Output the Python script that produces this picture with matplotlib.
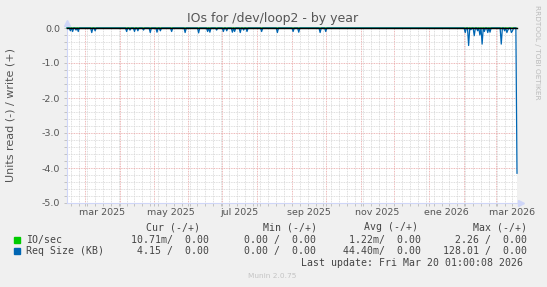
import numpy as np
import matplotlib
matplotlib.use('Agg')
import matplotlib.pyplot as plt
import matplotlib.dates as mdates
import matplotlib.transforms as mtransforms
from matplotlib.patches import Rectangle
from matplotlib.ticker import MultipleLocator
from datetime import datetime, timedelta

W, H = 547, 287

# data (read side drawn negative, one point per day)
start = datetime(2025, 2, 13, 1, 0)
n_days = 401
req_dip_days = [3, 5, 8, 10, 22, 25, 53, 56, 60, 63, 68, 74, 80, 83, 93, 105,
                117, 125, 127, 133, 139, 142, 147, 149, 154, 157, 160, 173,
                187, 201, 206, 225, 230,
                354, 357, 359, 362, 365, 367, 369, 371, 374, 376, 386, 389,
                391, 392, 395, 396, 400]
req_dip_vals = [-0.08, -0.1, -0.06, -0.1, -0.13, -0.08, -0.1, -0.06, -0.1,
                -0.08, -0.06, -0.13, -0.12, -0.08, -0.1, -0.13, -0.14, -0.1,
                -0.12, -0.06, -0.1, -0.08, -0.12, -0.1, -0.13, -0.06, -0.1,
                -0.1, -0.13, -0.1, -0.12, -0.13, -0.1,
                -0.13, -0.5, -0.05, -0.22, -0.08, -0.2, -0.46, -0.1, -0.13,
                -0.12, -0.46, -0.08, -0.13, -0.05, -0.13, -0.08, -4.15]
io_dip_days = [400]
io_dip_vals = [-0.01]

label_months = [datetime(2025, 3, 1), datetime(2025, 5, 1), datetime(2025, 7, 1),
                datetime(2025, 9, 1), datetime(2025, 11, 1), datetime(2026, 1, 1),
                datetime(2026, 3, 1)]
label_texts = ['mar 2025', 'may 2025', 'jul 2025', 'sep 2025', 'nov 2025',
               'ene 2026', 'mar 2026']

names = ['IO/sec', 'Req Size (KB)']
colors = ['#00CC00', '#0066B3']
cur = ['10.71m/  0.00', '4.15 /  0.00']
mins = ['0.00 /  0.00', '0.00 /  0.00']
avgs = ['1.22m/  0.00', '44.40m/  0.00']
maxs = ['2.26 /  0.00', '128.01 /  0.00']

dates = [start + timedelta(days=i) for i in range(n_days)]
req = np.zeros(n_days)
req[req_dip_days] = req_dip_vals
io = np.zeros(n_days)
io[io_dip_days] = io_dip_vals

txt = '#555555'
fig = plt.figure(figsize=(W / 100, H / 100), dpi=100, facecolor='#F0F0F0')
ax = fig.add_axes([67 / W, (H - 203) / H, 450 / W, 175 / H])
ax.set_facecolor('white')

ax.plot(dates, io, color=colors[0], lw=0.9, clip_on=False, zorder=3)
ax.plot(dates, req, color=colors[1], lw=0.9, clip_on=False, zorder=4)
ax.axhline(0, color='black', lw=1.0, clip_on=False, zorder=5)

ax.set_xlim(start, start + timedelta(days=400))
ax.set_ylim(-5, 0)

ax.xaxis.set_major_locator(mdates.MonthLocator())
ax.xaxis.set_minor_locator(mdates.WeekdayLocator(byweekday=mdates.MO))
ax.xaxis.set_major_formatter(plt.NullFormatter())
ax.yaxis.set_major_locator(MultipleLocator(1))
ax.yaxis.set_minor_locator(MultipleLocator(0.2))
ax.yaxis.set_major_formatter(plt.FuncFormatter(lambda v, p: '%.1f' % v))

ax.grid(which='minor', color='#D4D4D4', linestyle=(0, (1, 1)), lw=0.6, zorder=1)
ax.grid(which='major', color='#E8A0A0', linestyle=(0, (1, 1)), lw=0.6, zorder=2)
ax.set_axisbelow(True)

ax.tick_params(axis='both', which='both', colors='#BBBBBB', length=2, width=0.6,
               labelcolor=txt, labelsize=6.8)
ax.tick_params(axis='y', which='major', pad=3)
for s in ['top', 'right']:
    ax.spines[s].set_visible(False)
for s in ['left', 'bottom']:
    ax.spines[s].set_color('#CFD6F8')
    ax.spines[s].set_linewidth(0.8)

# axis arrows
ax.plot([0], [1.03], marker='^', ms=4, color='#CFD6F8', transform=ax.transAxes,
        clip_on=False)
ax.plot([1.008], [0], marker='>', ms=4, color='#CFD6F8', transform=ax.transAxes,
        clip_on=False)

# month labels centred on mid-month
trans = mtransforms.blended_transform_factory(ax.transData, ax.transAxes)
for m, t in zip(label_months, label_texts):
    ax.text(m + timedelta(days=15), -0.054, t, transform=trans, ha='center',
            va='center', fontsize=6.8, color=txt, clip_on=False)

fig.text(273 / W, (H - 18.5) / H, 'IOs for /dev/loop2 - by year', ha='center',
         va='center', fontsize=9, color=txt)
fig.text(11 / W, (H - 114.5) / H, 'Units read (-) / write (+)', rotation=90,
         ha='center', va='center', fontsize=8, color=txt)
fig.text(537.5 / W, (H - 52.5) / H, 'RRDTOOL / TOBI OETIKER', rotation=270,
         ha='center', va='center', fontsize=5.3, color='#BBBBBB')
fig.text(272 / W, (H - 276) / H, 'Munin 2.0.75', ha='center', va='center',
         fontsize=5.3, color='#C4C4C4')

# legend
mono = dict(family='DejaVu Sans Mono', fontsize=7.1, color='#444444', va='center')
hy = 227.5
for x, h in zip([200, 316.7, 418.3, 526.7],
                ['Cur (-/+)', 'Min (-/+)', 'Avg (-/+)', 'Max (-/+)']):
    fig.text(x / W, (H - hy) / H, h, ha='right', **mono)
for i, name in enumerate(names):
    y = 239.7 + i * 11.7
    fig.patches.append(Rectangle((14 / W, (H - y - 3) / H), 6 / W, 6 / H,
                                 transform=fig.transFigure, color=colors[i]))
    fig.text(26.3 / W, (H - y) / H, name, ha='left', **mono)
    for x, v in zip([209.3, 315.7, 420.7, 526.7],
                    [cur[i], mins[i], avgs[i], maxs[i]]):
        fig.text(x / W, (H - y) / H, v, ha='right', **mono)
fig.text(523.3 / W, (H - 263.2) / H, 'Last update: Fri Mar 20 01:00:08 2026',
         ha='right', **mono)

fig.savefig('out.png', dpi=100, facecolor=fig.get_facecolor())
